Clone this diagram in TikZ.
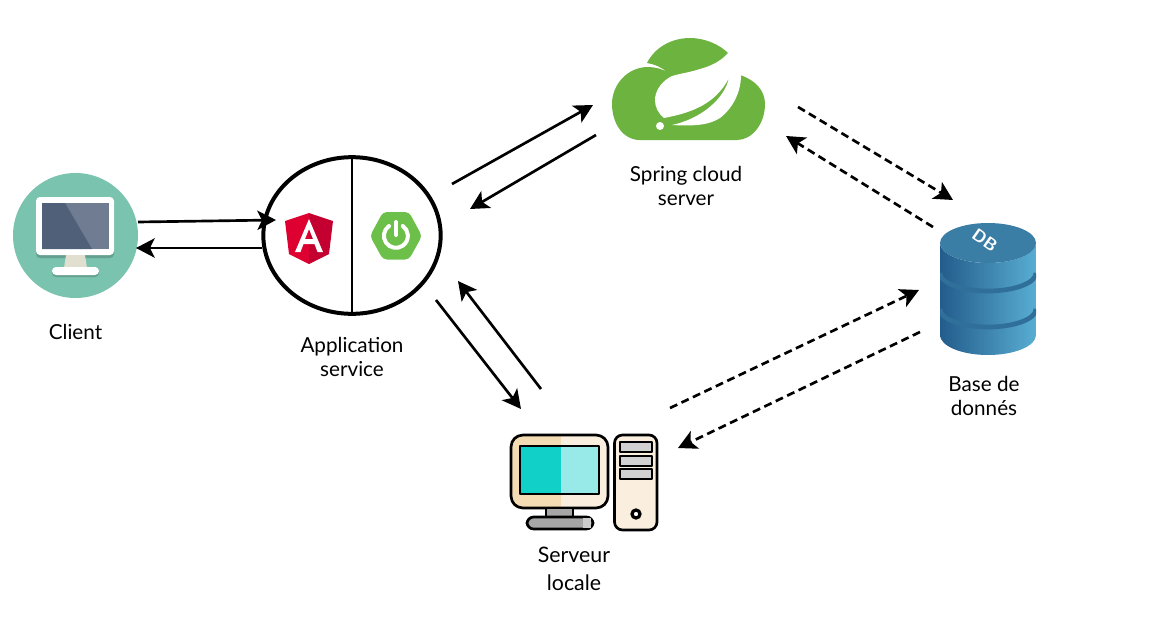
\documentclass[tikz,border=0pt]{standalone}
\usepackage{fontspec}
\setmainfont{Lato}
\usepackage{tikz}
\usetikzlibrary{arrows.meta,shapes.geometric}

\definecolor{clientgreen}{HTML}{7AC3AE}
\definecolor{screendark}{HTML}{4F6078}
\definecolor{screenlight}{HTML}{6F7C91}
\definecolor{standgrey}{HTML}{E0DFD0}
\definecolor{angularred}{HTML}{DD0031}
\definecolor{angulardark}{HTML}{C3002F}
\definecolor{springgreen}{HTML}{6DB33F}
\definecolor{bootgreen}{HTML}{6CC04A}
\definecolor{dbleft}{HTML}{235C8C}
\definecolor{dbright}{HTML}{58ADD2}
\definecolor{dbtop}{HTML}{3A7DA5}
\definecolor{dbband}{HTML}{2F6F99}
\definecolor{beigedark}{HTML}{F3DCB3}
\definecolor{beigelight}{HTML}{FAEEDE}
\definecolor{tealdark}{HTML}{10D0C8}
\definecolor{teallight}{HTML}{97EAE8}

\tikzset{
    flow/.style={line width=2pt, -{Stealth[length=14pt,width=14.5pt,inset=3.5pt]}},
    flowdash/.style={flow, dash pattern=on 6pt off 3.5pt},
    caption/.style={align=center, font=\fontsize{15.5}{18}\selectfont, inner sep=0pt},
    outline/.style={draw=black, line width=2pt, line join=round}
}

\begin{document}
\begin{tikzpicture}[x=0.75pt, y=-0.75pt]
    \useasboundingbox (0,0) rectangle (1156,621);

    % Client
    \node[circle, fill=clientgreen, minimum size=93.75pt, inner sep=0pt] (client) at (75.5,235.5) {};
    \fill[rounded corners=3pt, black!18!clientgreen] (36,200) rectangle (114,258);
    \fill[rounded corners=3pt, white] (36,197) rectangle (114,255);
    \fill[screenlight] (42,203) rectangle (109,249);
    \fill[screendark] (42,203) -- (65,203) -- (92,249) -- (42,249) -- cycle;
    \fill[standgrey] (66,255) -- (85,255) -- (87,268) -- (64,268) -- cycle;
    \fill[rounded corners=3pt, black!18!clientgreen] (52,269) rectangle (99,277);
    \fill[rounded corners=3pt, white] (52,267) rectangle (99,275);
    \node[caption] (clientlabel) at (75.5,332) {Client};

    % Application service
    \node[ellipse, draw, line width=3pt, minimum width=133pt, minimum height=117.5pt, inner sep=0pt] (app) at (352,235.5) {};
    \draw[line width=2pt] (app.north) -- (app.south);
    \fill[angularred] (309,213) -- (285,221) -- (289,254) -- (309,264) -- cycle;
    \fill[angulardark] (309,213) -- (333,221) -- (329,254) -- (309,264) -- cycle;
    \fill[white, even odd rule] (309,219) -- (295,252) -- (300.5,252) -- (303.5,244) -- (314.5,244) -- (317.5,252) -- (323,252) -- cycle
        (309,229) -- (313,239) -- (305,239) -- cycle;
    \fill[bootgreen, rounded corners=3pt] (370,236) -- (383,212) -- (409,212) -- (422,236) -- (409,259.5) -- (383,259.5) -- cycle;
    \draw[white, line width=3pt, line cap=round] (389,226) arc[start angle=235, end angle=-55, radius=12];
    \draw[white, line width=3pt, line cap=round] (396,222) -- (396,235);
    \node[caption] (applabel) at (352,357) {Application\\service};

    % Spring cloud server
    \path[fill=springgreen] (640,140) .. controls (622,140) and (612,122) .. (612,104)
        .. controls (612,84) and (628,67) .. (648,67)
        .. controls (655,67) and (662,69) .. (667,72)
        .. controls (661,67) and (654,64) .. (647,63)
        .. controls (655,47) and (672,38) .. (690,38)
        .. controls (704,38) and (719,44) .. (728,53)
        -- (740,75)
        .. controls (755,80) and (765,90) .. (765,104)
        .. controls (765,124) and (752,140) .. (737,140) -- cycle;
    \path[fill=white] (733,45) .. controls (728,56) and (718,64) .. (700,69)
        .. controls (688,73) and (676,74) .. (670,77)
        .. controls (660,83) and (655,92) .. (655,100)
        .. controls (655,107) and (658,113) .. (664,118)
        .. controls (690,113) and (715,105) .. (729,78)
        .. controls (724,100) and (700,119) .. (672,125)
        .. controls (690,126) and (708,126) .. (720,118)
        .. controls (733,108) and (741,92) .. (741,75)
        .. controls (741,65) and (737,55) .. (733,45) -- cycle;
    \fill[white] (660,126) circle[radius=4];
    \node[caption] (springlabel) at (686,186) {Spring cloud\\server};

    % Base de donnes
    \begin{scope}
        \clip (940,243) arc[start angle=180, end angle=360, x radius=48, y radius=-20] -- (1036,335)
            arc[start angle=0, end angle=-180, x radius=48, y radius=-20] -- cycle;
        \shade[left color=dbleft, right color=dbright] (940,220) rectangle (1036,356);
        \draw[dbband, line width=3.5pt] (940,273) arc[start angle=180, end angle=360, x radius=48, y radius=-18];
        \draw[dbband, line width=3.5pt] (940,309) arc[start angle=180, end angle=360, x radius=48, y radius=-18];
    \end{scope}
    \node[ellipse, fill=dbtop, minimum width=72pt, minimum height=30pt, inner sep=0pt] (db) at (988,243) {};
    \node[white, rotate=-35, font=\sffamily\bfseries\fontsize{13}{13}\selectfont, inner sep=0pt] (dbtext) at (985,240) {DB};
    \node[caption] (dblabel) at (984,396) {Base de\\donnés};

    % Serveur locale
    \fill[beigelight, rounded corners=6pt] (511,435) rectangle (608,508);
    \fill[beigedark, rounded corners=6pt] (511,435) rectangle (561,508);
    \fill[beigedark] (550,435) rectangle (561,508);
    \draw[outline, rounded corners=9pt] (511,435) rectangle (608,508);
    \draw[outline, fill=tealdark] (520,446) rectangle (599,494);
    \fill[teallight] (561,447) rectangle (598,493);
    \draw[outline, fill=black!35] (546,508) rectangle (573,523);
    \draw[outline, fill=black!35, rounded corners=5pt] (527,517) rectangle (593,529);
    \fill[black!20] (583,518) rectangle (591,528);
    \draw[outline] (546,517) -- (573,517);
    \draw[outline, fill=beigelight, rounded corners=6pt] (614.5,435) rectangle (657,530);
    \foreach \barY in {442,456,469} {
        \draw[outline, fill=black!18] (620,\barY) rectangle (652,\barY+10);
    }
    \draw[black, line width=2.4pt, fill=white] (636,514) circle[radius=4];
    \node[caption, font=\fontsize{16}{21}\selectfont] (serveurlabel) at (574,569) {Serveur\\locale};

    % Arrow ends
    \coordinate (clientOut) at (138,222);
    \coordinate (appIn) at (276,220);
    \coordinate (appOut) at (262,248);
    \coordinate (clientIn) at (136,248);
    \coordinate (appToSpring) at (452,184);
    \coordinate (springIn) at (593,105);
    \coordinate (springOut) at (596,135);
    \coordinate (appFromSpring) at (470,209);
    \coordinate (appToServeur) at (436,300);
    \coordinate (serveurIn) at (521,409);
    \coordinate (serveurOut) at (541,389);
    \coordinate (appFromServeur) at (458,281);
    \coordinate (springToDb) at (798,107);
    \coordinate (dbIn) at (953,200);
    \coordinate (dbOut) at (933,227);
    \coordinate (springFromDb) at (786,136);
    \coordinate (serveurToDb) at (670,408);
    \coordinate (dbInLow) at (919,290);
    \coordinate (dbOutLow) at (920,332);
    \coordinate (serveurFromDb) at (678,448);

    % Arrows
    \draw[flow] (clientOut) -- (appIn);
    \draw[flow] (appOut) -- (clientIn);
    \draw[flow] (appToSpring) -- (springIn);
    \draw[flow] (springOut) -- (appFromSpring);
    \draw[flow] (appToServeur) -- (serveurIn);
    \draw[flow] (serveurOut) -- (appFromServeur);
    \draw[flowdash] (springToDb) -- (dbIn);
    \draw[flowdash] (dbOut) -- (springFromDb);
    \draw[flowdash] (serveurToDb) -- (dbInLow);
    \draw[flowdash] (dbOutLow) -- (serveurFromDb);
\end{tikzpicture}
\end{document}
